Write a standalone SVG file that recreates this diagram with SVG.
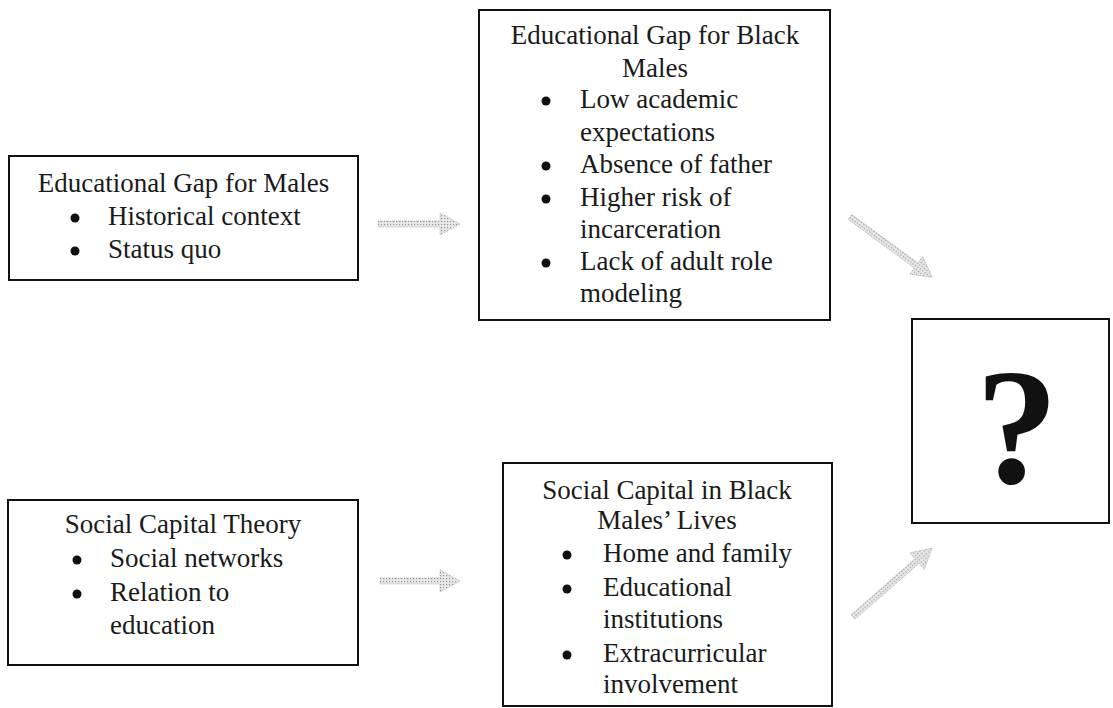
<svg xmlns="http://www.w3.org/2000/svg" width="1113" height="708" viewBox="0 0 1113 708">
<defs>
<style>
.box{fill:#fff;stroke:#111;stroke-width:2}
.t{font-family:"Liberation Serif","Times New Roman",serif;font-size:27px;fill:#1a1a1a}
.c{text-anchor:middle}
.b{fill:#111}
.arr{fill:url(#stip);stroke:#a8a8a8;stroke-width:0.8;stroke-dasharray:1 1}
</style>
<pattern id="stip" width="3" height="3" patternUnits="userSpaceOnUse">
<rect width="3" height="3" fill="#e8e8e8"/>
<rect x="0" y="0" width="1.2" height="1.2" fill="#999"/>
</pattern>
</defs>
<rect width="1113" height="708" fill="#fff"/>

<g id="node-ed-gap-males">
<rect class="box" x="9" y="156" width="349" height="124"/>
<text class="t c" x="183.5" y="192">Educational Gap for Males</text>
<circle class="b" cx="75" cy="218" r="4.5"/>
<text class="t" x="108" y="225">Historical context</text>
<circle class="b" cx="75" cy="251" r="4.5"/>
<text class="t" x="108" y="258">Status quo</text>
</g>

<g id="node-ed-gap-black-males">
<rect class="box" x="479" y="10" width="351" height="310"/>
<text class="t c" x="655" y="44">Educational Gap for Black</text>
<text class="t c" x="655" y="77">Males</text>
<circle class="b" cx="546" cy="101" r="4.5"/>
<text class="t" x="580" y="108">Low academic</text>
<text class="t" x="580" y="141">expectations</text>
<circle class="b" cx="546" cy="166" r="4.5"/>
<text class="t" x="580" y="173">Absence of father</text>
<circle class="b" cx="546" cy="199" r="4.5"/>
<text class="t" x="580" y="206">Higher risk of</text>
<text class="t" x="580" y="238">incarceration</text>
<circle class="b" cx="546" cy="263" r="4.5"/>
<text class="t" x="580" y="270">Lack of adult role</text>
<text class="t" x="580" y="302">modeling</text>
</g>

<g id="node-question">
<rect class="box" x="912" y="319" width="197" height="204"/>
<text x="1017" y="483" text-anchor="middle" font-family="Liberation Serif, Times New Roman, serif" font-weight="bold" font-size="165" fill="#111">?</text>
</g>

<g id="node-social-capital-theory">
<rect class="box" x="8" y="500" width="350" height="165"/>
<text class="t c" x="183" y="533">Social Capital Theory</text>
<circle class="b" cx="77" cy="560" r="4.5"/>
<text class="t" x="110" y="567">Social networks</text>
<circle class="b" cx="77" cy="594" r="4.5"/>
<text class="t" x="110" y="601">Relation to</text>
<text class="t" x="110" y="634">education</text>
</g>

<g id="node-social-capital-lives">
<rect class="box" x="503" y="463" width="329" height="243"/>
<text class="t c" x="667" y="499">Social Capital in Black</text>
<text class="t c" x="667" y="529">Males’ Lives</text>
<circle class="b" cx="567" cy="555" r="4.5"/>
<text class="t" x="603" y="562">Home and family</text>
<circle class="b" cx="567" cy="589" r="4.5"/>
<text class="t" x="603" y="596">Educational</text>
<text class="t" x="603" y="628">institutions</text>
<circle class="b" cx="567" cy="655" r="4.5"/>
<text class="t" x="603" y="662">Extracurricular</text>
<text class="t" x="603" y="693">involvement</text>
</g>

<g id="connectors">
<polygon class="arr" transform="translate(378,224)" points="0,-3 62,-3 62,-11 82,0 62,11 62,3 0,3"/>
<polygon class="arr" transform="translate(380,581)" points="0,-3 60,-3 60,-11 80,0 60,11 60,3 0,3"/>
<polygon class="arr" transform="translate(850,217) rotate(36.2)" points="0,-3 82,-3 82,-11 102,0 82,11 82,3 0,3"/>
<polygon class="arr" transform="translate(853,617) rotate(-41.1)" points="0,-3 85,-3 85,-11 105,0 85,11 85,3 0,3"/>
</g>
</svg>
